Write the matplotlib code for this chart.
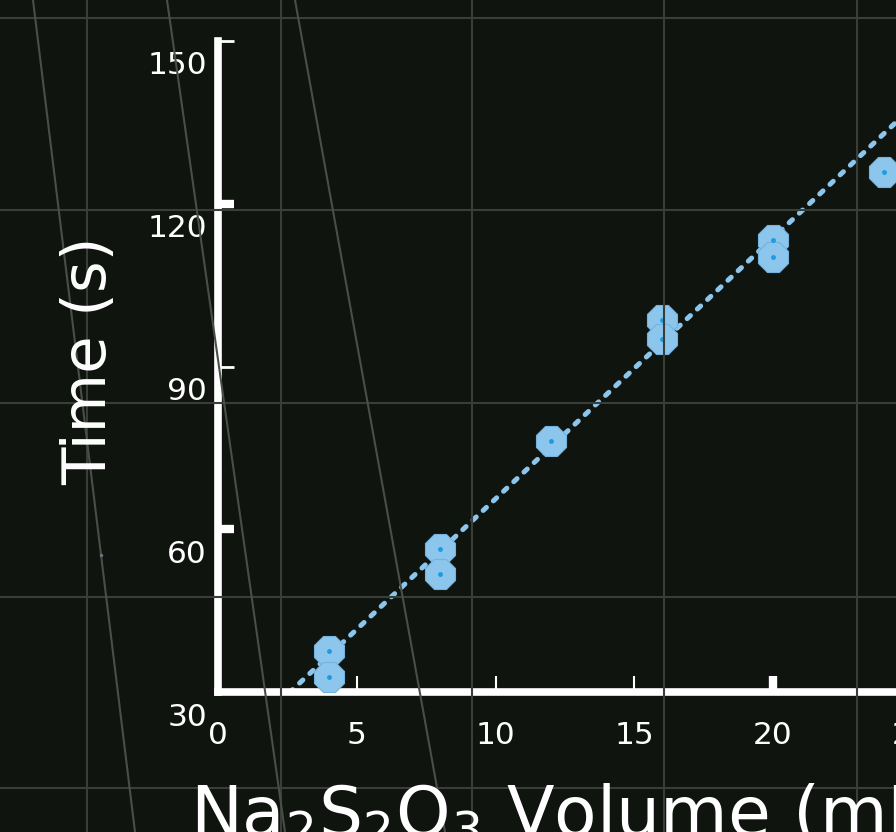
import numpy as np
import matplotlib
matplotlib.use("Agg")
import matplotlib.pyplot as plt
import matplotlib.transforms as mtransforms
from matplotlib.lines import Line2D

# Datos
volume_ml = [4, 4, 8, 8, 12, 16, 16, 20, 20, 24]
time_s = [37.6, 32.7, 56.4, 51.8, 76.3, 98.5, 95.1, 113.3, 110.2, 125.9]
fit_slope = 4.81
fit_intercept = 17.5
x_ticks = [0, 5, 10, 15, 20, 25]
y_ticks = [30, 60, 90, 120, 150]
x_thick = [20]
y_thick = [60, 120]

BG = "#10140f"
GRID = "#3a3e38"
BLUE = "#8cc6ec"

plt.rcParams['font.family'] = ['DejaVu Sans']
plt.rcParams['mathtext.fontset'] = 'custom'
plt.rcParams['mathtext.rm'] = 'DejaVu Sans'

W, H = 896, 832
fig = plt.figure(figsize=(W / 100, H / 100), dpi=100, facecolor=BG)

# fondo: cuadricula y lineas diagonales
for gx in [87, 281, 472, 664, 857]:
    fig.add_artist(Line2D([gx / W, gx / W], [0, 1], color=GRID, lw=1.5))
for gy in [18, 210, 403, 597, 788]:
    fig.add_artist(Line2D([0, 1], [1 - gy / H, 1 - gy / H], color=GRID, lw=1.5))
for (x0, y0), (x1, y1) in [((33, 0), (135, 832)), ((167, 0), (285, 832)), ((295, 0), (445, 832))]:
    fig.add_artist(Line2D([x0 / W, x1 / W], [1 - y0 / H, 1 - y1 / H], color="#4a4e48", lw=1.5))
fig.add_artist(Line2D([101 / W], [1 - 555 / H], marker='o', ms=1.5, color="#6a7080", lw=0))

# ejes
ax = fig.add_axes([218 / W, 1 - 692 / H, 30 * 27.75 / W, 651 / H])
ax.set_facecolor("none")
ax.set_xlim(0, 30)
ax.set_ylim(30, 150)

xs = np.array([0, 30])
ax.plot(xs, fit_intercept + fit_slope * xs, ls=(0, (0.9, 1.9)), lw=3.6, color=BLUE,
        dash_capstyle='round', zorder=2)
ax.plot(volume_ml, time_s, ls='none', marker='8', ms=24, mfc=BLUE, mec='#74b2df',
        mew=0.8, clip_on=False, zorder=3)
ax.plot(volume_ml, time_s, ls='none', marker='o', ms=2.5, color='#1d9be3',
        clip_on=False, zorder=4)

for side in ['top', 'right']:
    ax.spines[side].set_visible(False)
for side in ['left', 'bottom']:
    ax.spines[side].set_color('white')
    ax.spines[side].set_linewidth(5.5)
    ax.spines[side].set_capstyle('projecting')

ax.set_xticks(x_ticks)
ax.set_yticks(y_ticks)
ax.tick_params(direction='in', colors='white', labelsize=22.5, length=11.5, width=1.5)
ax.tick_params(axis='x', pad=21)
ax.tick_params(axis='y', pad=8)

for tick, v in zip(ax.xaxis.get_major_ticks(), x_ticks):
    if v in x_thick:
        tick.tick1line.set_markeredgewidth(6)
shift = mtransforms.ScaledTranslation(0, -0.22, fig.dpi_scale_trans)
for tick, v in zip(ax.yaxis.get_major_ticks(), y_ticks):
    if v in y_thick:
        tick.tick1line.set_markeredgewidth(6)
    else:
        tick.tick1line.set_markeredgewidth(2)
    tick.label1.set_transform(tick.label1.get_transform() + shift)

# titulos de ejes
fig.text(90 / W, 1 - 361 / H, "Time (s)", rotation=90, ha='center', va='center',
         color='white', fontsize=44)
fig.text(190 / W, 1 - 836 / H, r"Na$_2$S$_2$O$_3$ Volume (mL)", ha='left', va='baseline',
         color='white', fontsize=50)

fig.savefig("out.png", dpi=100, facecolor=BG)
